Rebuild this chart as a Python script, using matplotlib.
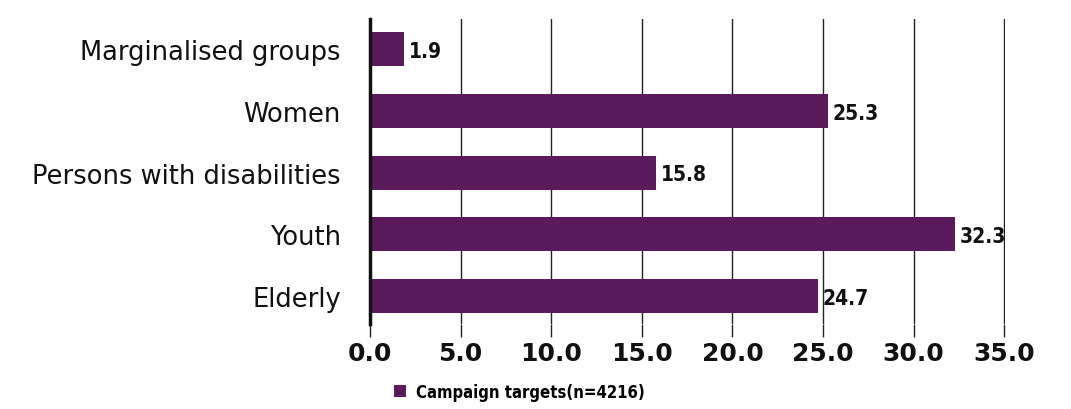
import matplotlib.pyplot as plt
from matplotlib.patches import Patch

# Campaign target groups and their share (%)
categories = ["Marginalised groups", "Women", "Persons with disabilities", "Youth", "Elderly"]
values = [1.9, 25.3, 15.8, 32.3, 24.7]
xticks = [0, 5, 10, 15, 20, 25, 30, 35]
legend_label = "Campaign targets(n=4216)"

bar_color = "#5a1a5c"


def plot_targets(save_path):
    fig = plt.figure(figsize=(10.71, 4.10), dpi=100)
    fig.patch.set_facecolor("white")
    ax = fig.add_axes([0.3455, 0.207, 0.593, 0.744])

    pos = list(range(len(categories)))
    ax.barh(pos, values, height=0.55, color=bar_color, zorder=3)

    # value labels next to each bar
    for p, v in zip(pos, values):
        ax.text(v + 0.25, p + 0.03, f"{v:.1f}", va="center", ha="left",
                fontsize=15, fontweight="bold", fontstretch="condensed",
                color="#111111")

    ax.set_xlim(0, 35.05)
    ax.set_ylim(len(categories) - 0.55, -0.48)
    ax.set_xticks(xticks)
    ax.set_xticklabels([f"{t:.1f}" for t in xticks], fontsize=18,
                       fontweight="bold", color="#111111")
    ax.set_yticks(pos)
    ax.set_yticklabels(categories, fontsize=18.5, color="#111111")

    ax.grid(axis="x", color="#222222", linewidth=1.0, zorder=0)
    ax.tick_params(axis="x", length=9, width=1.0, color="#222222", pad=3)
    ax.tick_params(axis="y", length=0, pad=21)

    for s in ["top", "right", "bottom"]:
        ax.spines[s].set_visible(False)
    ax.spines["left"].set_linewidth(2.5)
    ax.spines["left"].set_color("#111111")
    ax.spines["left"].set_zorder(4)

    handle = Patch(facecolor=bar_color, edgecolor="none")
    fig.legend([handle], [legend_label], loc="center", bbox_to_anchor=(0.485, 0.042),
               frameon=False, handlelength=0.7, handleheight=0.7, handletextpad=0.6,
               prop={"weight": "bold", "size": 12, "stretch": "condensed"})

    fig.savefig(save_path, dpi=100)


if __name__ == "__main__":
    plot_targets("out.png")
